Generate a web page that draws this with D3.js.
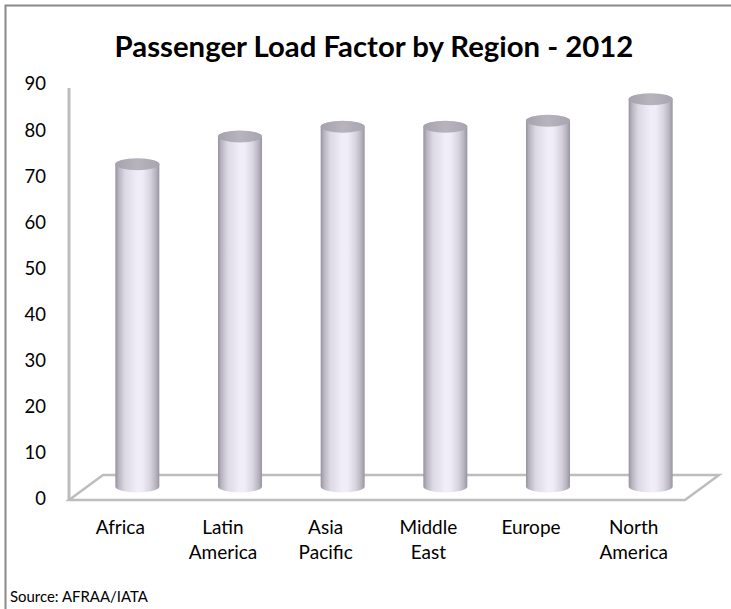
<!DOCTYPE html>
<html>
<head>
<meta charset="utf-8">
<script src="https://cdn.jsdelivr.net/npm/d3@7/dist/d3.min.js"></script>
<style>
  html, body { margin: 0; padding: 0; background: #fff; }
  svg { display: block; }
  text { font-family: Lato, "Open Sans", sans-serif; fill: #000; }
</style>
</head>
<body>
<svg id="chart" width="731" height="609"></svg>
<script>
const categories = [["Africa"], ["Latin", "America"], ["Asia", "Pacific"], ["Middle", "East"], ["Europe"], ["North", "America"]];
const values = [69.9, 75.9, 78.0, 78.0, 79.3, 84.0];
const yTicks = [0, 10, 20, 30, 40, 50, 60, 70, 80, 90];
const titleText = "Passenger Load Factor by Region - 2012";
const sourceText = "Source: AFRAA/IATA";

const svg = d3.select("#chart");
const W = 731, H = 609;

// border
svg.append("rect").attr("x", 5.5).attr("y", 5.5).attr("width", W + 10).attr("height", H + 10)
  .attr("fill", "#fff").attr("stroke", "#8a8a8a").attr("stroke-width", 2);

// scales (front plane)
const catKeys = categories.map(c => c.join(" "));
const x = d3.scaleBand().domain(catKeys).range([69, 685]).paddingInner(0).paddingOuter(0);
const y = d3.scaleLinear().domain([0, 90]).range([499, 84]);
const depthX = 34, depthY = -25;
const midX = depthX / 2, midY = depthY / 2;

// defs: cylinder gradients
const defs = svg.append("defs");
const bodyGrad = defs.append("linearGradient").attr("id", "body").attr("x1", "0").attr("x2", "1").attr("y1", "0").attr("y2", "0");
[[0, "#96929e"], [0.08, "#b9b5c1"], [0.22, "#dcd8e4"], [0.5, "#f2eef9"], [0.62, "#f0ecf7"], [0.8, "#d6d2de"], [0.92, "#b7b3bf"], [1, "#9894a0"]]
  .forEach(([o, c]) => bodyGrad.append("stop").attr("offset", o).attr("stop-color", c));
const topGrad = defs.append("linearGradient").attr("id", "top").attr("x1", "0").attr("x2", "1").attr("y1", "0").attr("y2", "0");
[[0, "#a6a2ac"], [0.5, "#b8b4be"], [1, "#a9a5b0"]]
  .forEach(([o, c]) => topGrad.append("stop").attr("offset", o).attr("stop-color", c));

// floor
const fx0 = x.range()[0], fx1 = x.range()[1], fy = y(0) + 1;
svg.append("path")
  .attr("d", `M${fx0},${fy} L${fx1},${fy} L${fx1 + depthX},${fy + depthY} L${fx0 + depthX},${fy + depthY} Z`)
  .attr("fill", "#fff").attr("stroke", "#bdbdbd").attr("stroke-width", 2.5).attr("stroke-linejoin", "miter");

// value axis line
svg.append("line").attr("x1", 69).attr("x2", 69).attr("y1", y(90) + 4).attr("y2", fy)
  .attr("stroke", "#bcbcbc").attr("stroke-width", 3);

// y tick labels
svg.append("g").selectAll("text").data(yTicks).join("text")
  .attr("x", 46).attr("y", d => y(d)).attr("dy", "0.35em")
  .attr("text-anchor", "end").attr("font-size", 18.5).text(d => d);

// cylinders
const rx = 22, ry = 6;
const bars = svg.append("g").selectAll("g").data(values).join("g");
bars.append("path")
  .attr("d", (d, i) => {
    const cx = x(catKeys[i]) + x.bandwidth() / 2 + midX;
    const top = y(d) + midY, bot = y(0) + midY;
    return `M${cx - rx},${top} L${cx - rx},${bot} A${rx},${ry} 0 0 0 ${cx + rx},${bot} L${cx + rx},${top} A${rx},${ry} 0 0 0 ${cx - rx},${top} Z`;
  })
  .attr("fill", "url(#body)");
bars.append("ellipse")
  .attr("cx", (d, i) => x(catKeys[i]) + x.bandwidth() / 2 + midX)
  .attr("cy", d => y(d) + midY)
  .attr("rx", rx).attr("ry", ry)
  .attr("fill", "url(#top)");

// category labels
const cl = svg.append("g").selectAll("text").data(categories).join("text")
  .attr("x", (d, i) => x(catKeys[i]) + x.bandwidth() / 2)
  .attr("y", 534).attr("text-anchor", "middle").attr("font-size", 19);
cl.selectAll("tspan").data(d => d).join("tspan")
  .attr("x", function () { return d3.select(this.parentNode).attr("x"); })
  .attr("dy", (d, j) => j === 0 ? 0 : 25).text(d => d);

// title
const title = svg.append("text").attr("x", 374).attr("y", 57).attr("text-anchor", "middle")
  .attr("font-weight", "bold").attr("font-size", 25).text(titleText);
const tw = title.node().getComputedTextLength();
title.attr("font-size", 25 * 519 / tw);

// source
const src = svg.append("text").attr("x", 10).attr("y", 602).attr("font-size", 15).text(sourceText);
const sw = src.node().getComputedTextLength();
src.attr("font-size", 15 * 138 / sw);
</script>
</body>
</html>
